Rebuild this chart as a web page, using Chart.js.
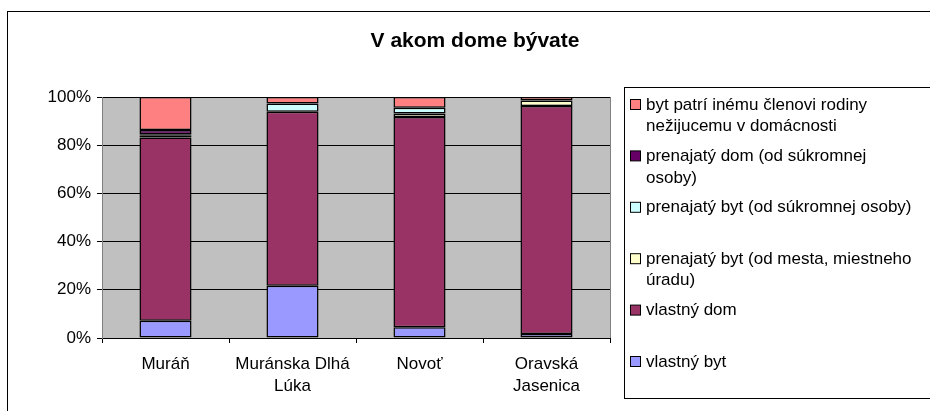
<!DOCTYPE html>
<html>
<head>
<meta charset="utf-8">
<script src="https://cdn.jsdelivr.net/npm/chart.js@4.4.1/dist/chart.umd.min.js"></script>
<style>
  html, body { margin: 0; padding: 0; background: #fff; }
  #wrap { width: 930px; height: 411px; position: relative; }
</style>
</head>
<body>
<div id="wrap"><canvas id="myChart" width="930" height="411"></canvas></div>
<script>
const chart_title = 'V akom dome bývate';
const categories = [['Muráň'], ['Muránska Dlhá', 'Lúka'], ['Novoť'], ['Oravská', 'Jasenica']];
const y_ticks = [0, 20, 40, 60, 80, 100];

// series, bottom of the stack first
const series_names = [
    ['vlastný byt'],
    ['vlastný dom'],
    ['prenajatý byt (od mesta, miestneho', 'úradu)'],
    ['prenajatý byt (od súkromnej osoby)'],
    ['prenajatý dom (od súkromnej', 'osoby)'],
    ['byt patrí inému členovi rodiny', 'nežijucemu v domácnosti']
];
const vlastny_byt = [7.2, 21.7, 4.5, 1.7];
const vlastny_dom = [76.0, 72.2, 87.2, 94.6];
const prenajaty_byt_mesto = [0.7, null, 1.5, 2.2];
const prenajaty_byt_sukr = [0.6, 3.4, 2.3, null];
const prenajaty_dom = [1.8, null, null, null];
const byt_patri = [13.7, 2.7, 4.5, 1.5];

const series_colors = ['#9999FF', '#993366', '#FFFFCC', '#CCFFFF', '#660066', '#FF8080'];
const series_values = [vlastny_byt, vlastny_dom, prenajaty_byt_mesto, prenajaty_byt_sukr, prenajaty_dom, byt_patri];

const font_family = '"Liberation Sans", Arial, sans-serif';
const text_size = 17;

const frame_plugin = {
    id: 'frame',
    beforeDraw(chart) {
        const c = chart.ctx;
        const a = chart.chartArea;
        c.save();
        c.fillStyle = '#C0C0C0';
        c.fillRect(a.left, a.top, a.right - a.left, a.bottom - a.top);
        c.restore();
    },
    afterDraw(chart) {
        const c = chart.ctx;
        const a = chart.chartArea;
        c.save();
        // plot border
        c.strokeStyle = '#808080';
        c.lineWidth = 1;
        c.beginPath();
        c.moveTo(a.right + 0.5, a.top);
        c.lineTo(a.right + 0.5, a.bottom);
        c.stroke();

        // outer frame
        c.strokeStyle = '#000';
        c.strokeRect(7.5, 11.5, 1000, 600);

        // title
        c.fillStyle = '#000';
        c.font = 'bold 21px ' + font_family;
        c.textAlign = 'center';
        c.textBaseline = 'middle';
        c.fillText(chart_title, 475, 41);

        // legend box
        c.strokeStyle = '#000';
        c.strokeRect(624.5, 87.5, 400, 311);

        c.font = text_size + 'px ' + font_family;
        c.textAlign = 'left';
        const ds = chart.data.datasets;
        for (let i = 0; i < ds.length; i++) {
            const d = ds[ds.length - 1 - i];
            const y = 105 + i * 51.4;
            c.fillStyle = d.backgroundColor;
            c.fillRect(630.5, y - 5.5, 10, 10);
            c.strokeStyle = '#000';
            c.strokeRect(630.5, y - 5.5, 10, 10);
            c.fillStyle = '#000';
            d.legendLines.forEach((line, j) => {
                c.fillText(line, 646, y + j * 21.5);
            });
        }
        c.restore();
    }
};

const ctx = document.getElementById('myChart').getContext('2d');

new Chart(ctx, {
    type: 'bar',
    data: {
        labels: categories,
        datasets: series_values.map((vals, i) => ({
            label: series_names[i].join(' '),
            legendLines: series_names[i],
            data: vals,
            backgroundColor: series_colors[i],
            borderColor: '#000',
            borderWidth: 1.5,
            borderSkipped: false,
            categoryPercentage: 1,
            barPercentage: 0.41
        }))
    },
    options: {
        responsive: false,
        animation: false,
        layout: { padding: { left: 0, right: 320, top: 97, bottom: 0 } },
        plugins: {
            legend: { display: false },
            title: { display: false },
            tooltip: { enabled: false }
        },
        scales: {
            x: {
                stacked: true,
                afterFit(scale) { scale.height = 73; },
                border: { color: '#000' },
                grid: { drawOnChartArea: false, drawTicks: true, tickLength: 5, color: '#000', offset: true },
                ticks: { color: '#000', font: { family: font_family, size: text_size, lineHeight: 1.3 }, padding: 10, maxRotation: 0 }
            },
            y: {
                stacked: true,
                min: 0,
                max: 100,
                afterFit(scale) { scale.width = 102; },
                afterBuildTicks(scale) { scale.ticks = y_ticks.map(v => ({ value: v })); },
                border: { color: '#808080' },
                grid: { color: '#000', tickLength: 5, drawTicks: true },
                ticks: {
                    color: '#000',
                    font: { family: font_family, size: text_size },
                    padding: 6,
                    callback: v => v + '%'
                }
            }
        }
    },
    plugins: [frame_plugin]
});
</script>
</body>
</html>
